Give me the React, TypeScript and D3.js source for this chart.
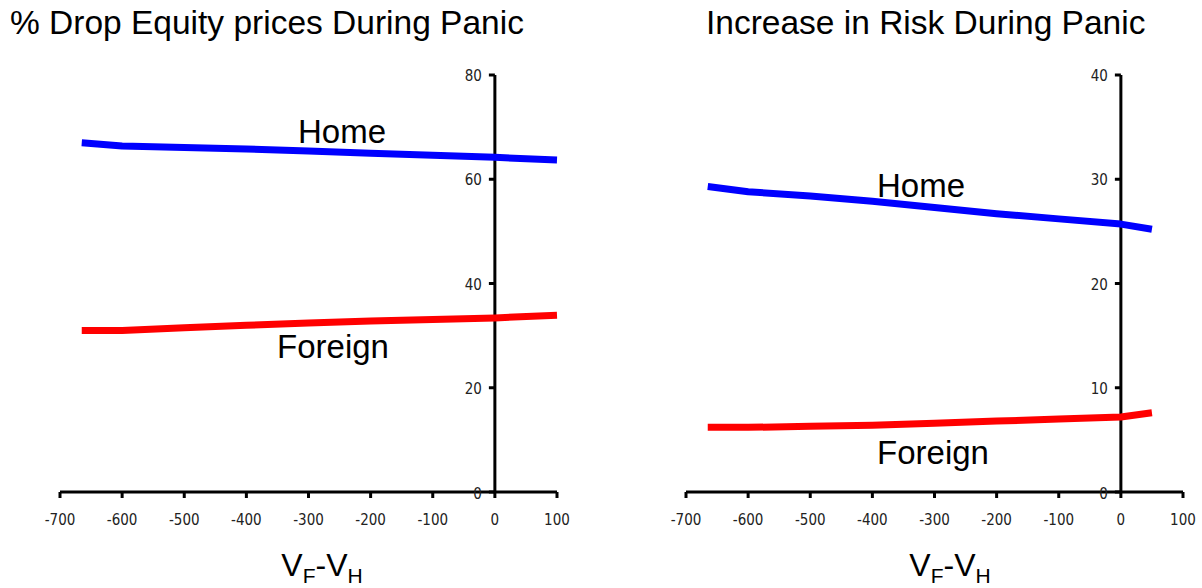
import React from "react";
import * as d3 from "d3";

const xTicks = [-700, -600, -500, -400, -300, -200, -100, 0, 100];

const leftX = [-665, -600, -500, -400, -300, -200, -100, 0, 100];
const leftHome = [67.0, 66.4, 66.1, 65.8, 65.4, 65.0, 64.6, 64.2, 63.7];
const leftForeign = [31.0, 31.0, 31.5, 32.0, 32.4, 32.8, 33.1, 33.4, 33.9];
const leftYTicks = [0, 20, 40, 60, 80];

const rightX = [-665, -600, -500, -400, -300, -200, -100, 0, 50];
const rightHome = [29.3, 28.8, 28.4, 27.9, 27.3, 26.7, 26.2, 25.7, 25.2];
const rightForeign = [6.2, 6.2, 6.3, 6.4, 6.6, 6.8, 7.0, 7.2, 7.6];
const rightYTicks = [0, 10, 20, 30, 40];

type PanelProps = {
  title: string;
  titleX: number;
  x0: number;
  x1: number;
  yMax: number;
  yTicks: number[];
  xs: number[];
  home: number[];
  foreign: number[];
  homeLabel: [number, number];
  foreignLabel: [number, number];
  xLabelX: number;
};

const top = 75;
const bottom = 492;
const sans = "'Liberation Sans', Arial, sans-serif";
const tickFont = "'Liberation Sans Narrow', 'DejaVu Sans Condensed', sans-serif";

function Panel(p: PanelProps) {
  const x = d3.scaleLinear().domain([-700, 100]).range([p.x0, p.x1]);
  const y = d3.scaleLinear().domain([0, p.yMax]).range([bottom, top]);
  const line = d3
    .line<number>()
    .x((_, i) => x(p.xs[i]))
    .y((d) => y(d));
  return (
    <g>
      <text x={p.titleX} y={34} fontFamily={sans} fontSize={33.5} fill="#000">
        {p.title}
      </text>
      {/* x axis */}
      <line x1={x(-700)} x2={x(100)} y1={y(0)} y2={y(0)} stroke="#000" strokeWidth={3} />
      {xTicks.map((t) => (
        <g key={t}>
          <line x1={x(t)} x2={x(t)} y1={y(0)} y2={y(0) + 6} stroke="#000" strokeWidth={3} />
          <text x={x(t)} y={y(0) + 33} textAnchor="middle" fontFamily={tickFont} fontSize={15} fill="#222">
            {t}
          </text>
        </g>
      ))}
      {/* y axis */}
      <line x1={x(0)} x2={x(0)} y1={y(p.yMax)} y2={y(0)} stroke="#000" strokeWidth={3} />
      {p.yTicks.map((t) => (
        <g key={t}>
          <line x1={x(0) - 6} x2={x(0)} y1={y(t)} y2={y(t)} stroke="#000" strokeWidth={3} />
          <text x={x(0) - 13} y={y(t) + (t === 0 ? 7 : 6)} textAnchor="end" fontFamily={tickFont} fontSize={15} fill="#222">
            {t}
          </text>
        </g>
      ))}
      <path d={line(p.home) || ""} fill="none" stroke="#0000ff" strokeWidth={7} strokeLinejoin="round" />
      <path d={line(p.foreign) || ""} fill="none" stroke="#ff0000" strokeWidth={7} strokeLinejoin="round" />
      <text x={p.homeLabel[0]} y={p.homeLabel[1]} textAnchor="middle" fontFamily={sans} fontSize={33} fill="#000">
        Home
      </text>
      <text x={p.foreignLabel[0]} y={p.foreignLabel[1]} textAnchor="middle" fontFamily={sans} fontSize={33} fill="#000">
        Foreign
      </text>
      <text x={p.xLabelX} y={576} textAnchor="middle" fontFamily={sans} fontSize={32} fill="#000">
        V<tspan fontSize={21} dy={7}>F</tspan>
        <tspan dy={-7}>-V</tspan>
        <tspan fontSize={21} dy={7}>H</tspan>
      </text>
    </g>
  );
}

export default function App() {
  return (
    <svg width={1202} height={588} style={{ position: "absolute", left: 0, top: 0, background: "#fff" }}>
      <rect width={1202} height={588} fill="#fff" />
      <Panel
        title="% Drop Equity prices During Panic"
        titleX={10}
        x0={60}
        x1={557}
        yMax={80}
        yTicks={leftYTicks}
        xs={leftX}
        home={leftHome}
        foreign={leftForeign}
        homeLabel={[342, 143]}
        foreignLabel={[333, 358]}
        xLabelX={322}
      />
      <Panel
        title="Increase in Risk During Panic"
        titleX={706}
        x0={686}
        x1={1183}
        yMax={40}
        yTicks={rightYTicks}
        xs={rightX}
        home={rightHome}
        foreign={rightForeign}
        homeLabel={[921, 197]}
        foreignLabel={[933, 464]}
        xLabelX={950}
      />
    </svg>
  );
}
